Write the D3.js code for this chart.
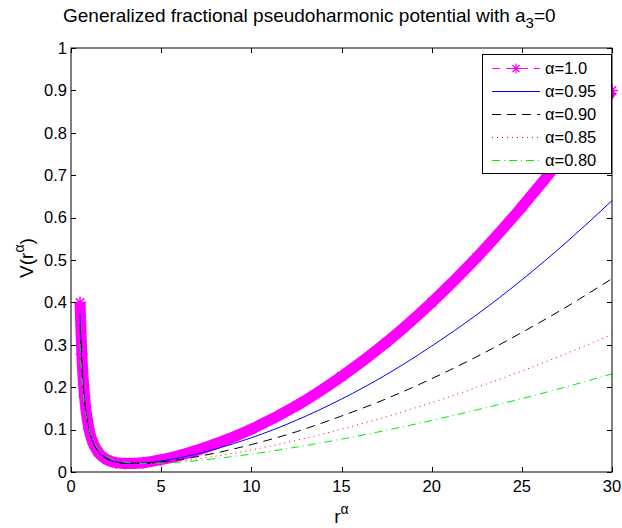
<!DOCTYPE html>
<html>
<head>
<meta charset="utf-8">
<script src="https://cdn.jsdelivr.net/npm/d3@7"></script>
<style>
  body { margin: 0; background: #fff; }
  svg { display: block; font-family: "Liberation Sans", Arial, Helvetica, sans-serif; }
</style>
</head>
<body>
<div id="chart"></div>
<script>
// r^alpha sample positions
var rVals = [0.5, 0.6, 0.75, 1, 1.25, 1.5, 2, 2.5, 3, 4, 5, 6, 8, 10, 12.5, 15, 17.5, 20, 22.5, 25, 27.5, 30]
// V(r^alpha) for each alpha
var v100 = [0.400, 0.278, 0.178, 0.101, 0.066, 0.047, 0.029, 0.022, 0.020, 0.022, 0.029, 0.039, 0.066, 0.101, 0.156, 0.225, 0.306, 0.400, 0.506, 0.625, 0.756, 0.900]
var v095 = [0.373, 0.264, 0.173, 0.101, 0.067, 0.0485, 0.0305, 0.0232, 0.0205, 0.0211, 0.026, 0.0334, 0.054, 0.0807, 0.122, 0.172, 0.230, 0.297, 0.371, 0.453, 0.543, 0.640]
var v090 = [0.348, 0.251, 0.168, 0.101, 0.068, 0.050, 0.032, 0.0244, 0.0211, 0.0203, 0.0236, 0.0292, 0.0446, 0.0647, 0.095, 0.132, 0.173, 0.220, 0.272, 0.329, 0.390, 0.456]
var v085 = [0.325, 0.239, 0.164, 0.101, 0.070, 0.052, 0.034, 0.0258, 0.022, 0.0201, 0.0219, 0.0258, 0.0372, 0.052, 0.0747, 0.101, 0.1305, 0.1635, 0.1996, 0.238, 0.280, 0.3245]
var v080 = [0.303, 0.227, 0.159, 0.101, 0.0714, 0.054, 0.036, 0.0274, 0.023, 0.0201, 0.0207, 0.0233, 0.0315, 0.0423, 0.0587, 0.0775, 0.0985, 0.1216, 0.1465, 0.173, 0.2013, 0.2314]

var labels = ['\u03b1=1.0', '\u03b1=0.95', '\u03b1=0.90', '\u03b1=0.85', '\u03b1=0.80']
var xTicks = [0, 5, 10, 15, 20, 25, 30]
var yTicks = [0, 0.1, 0.2, 0.3, 0.4, 0.5, 0.6, 0.7, 0.8, 0.9, 1]

var W = 622, H = 528
var L = 71, R = 612, T = 48, B = 472

var series = [
  { name: labels[0], v: v100, color: '#ff00ff', dash: null, band: true },
  { name: labels[1], v: v095, color: '#0000ff', dash: null },
  { name: labels[2], v: v090, color: '#000000', dash: '9,6' },
  { name: labels[3], v: v085, color: '#ff0000', dash: '1,4' },
  { name: labels[4], v: v080, color: '#00ee00', dash: '8,4,1,4' }
]

var svg = d3.select('#chart').append('svg')
  .attr('width', W)
  .attr('height', H)

var x = d3.scaleLinear().domain([0, 30]).range([L, R])
var y = d3.scaleLinear().domain([0, 1]).range([B, T])

// MATLAB 风格的 * 标记
function star (h) {
  var d = h * 0.7
  return 'M' + (-h) + ',0L' + h + ',0M0,' + (-h) + 'L0,' + h +
    'M' + (-d) + ',' + (-d) + 'L' + d + ',' + d + 'M' + (-d) + ',' + d + 'L' + d + ',' + (-d)
}

var line = d3.line()
  .x(d => x(d[0]))
  .y(d => y(d[1]))
  .curve(d3.curveMonotoneX)

// white axes background
svg.append('rect')
  .attr('x', L).attr('y', T)
  .attr('width', R - L).attr('height', B - T)
  .attr('fill', '#fff')

var plot = svg.append('g')

series.forEach(function (s) {
  var pts = rVals.map((r, i) => [r, s.v[i]])
  if (s.band) {
    plot.append('path')
      .attr('d', line(pts))
      .attr('fill', 'none')
      .attr('stroke', s.color)
      .attr('stroke-width', 11)
      .attr('stroke-linejoin', 'round')
    plot.selectAll('path.star')
      .data(pts)
      .enter()
      .append('path')
      .attr('class', 'star')
      .attr('transform', d => 'translate(' + x(d[0]) + ',' + y(d[1]) + ')')
      .attr('d', star(6))
      .attr('stroke', s.color)
      .attr('stroke-width', 1.5)
  } else {
    plot.append('path')
      .attr('d', line(pts))
      .attr('fill', 'none')
      .attr('stroke', s.color)
      .attr('stroke-width', 1)
      .attr('stroke-dasharray', s.dash)
  }
})

// axes box with inward ticks on all sides
var axes = svg.append('g').attr('stroke', '#000').attr('stroke-width', 1)
axes.append('rect')
  .attr('x', L).attr('y', T)
  .attr('width', R - L).attr('height', B - T)
  .attr('fill', 'none')
var tl = 5
xTicks.forEach(function (t) {
  var px = Math.round(x(t)) + 0.5
  axes.append('line').attr('x1', px).attr('x2', px).attr('y1', B).attr('y2', B - tl)
  axes.append('line').attr('x1', px).attr('x2', px).attr('y1', T).attr('y2', T + tl)
})
yTicks.forEach(function (t) {
  var py = Math.round(y(t)) + 0.5
  axes.append('line').attr('x1', L).attr('x2', L + tl).attr('y1', py).attr('y2', py)
  axes.append('line').attr('x1', R).attr('x2', R - tl).attr('y1', py).attr('y2', py)
})

svg.append('g').selectAll('text')
  .data(xTicks)
  .enter()
  .append('text')
  .attr('x', d => x(d))
  .attr('y', B + 20)
  .attr('text-anchor', 'middle')
  .attr('font-size', 16.5)
  .text(d => d)

svg.append('g').selectAll('text')
  .data(yTicks)
  .enter()
  .append('text')
  .attr('x', L - 4)
  .attr('y', d => y(d))
  .attr('dy', '0.35em')
  .attr('text-anchor', 'end')
  .attr('font-size', 16.5)
  .text(d => d)

// title
var title = svg.append('text')
  .attr('x', 63)
  .attr('y', 22)
  .attr('font-size', 19)
title.append('tspan').text('Generalized fractional pseudoharmonic potential with a')
title.append('tspan').attr('font-size', 15).attr('dy', 6).text('3')
title.append('tspan').attr('dy', -6).text('=0')

// x label
var xl = svg.append('text')
  .attr('x', (L + R) / 2)
  .attr('y', 523)
  .attr('text-anchor', 'middle')
  .attr('font-size', 19)
xl.append('tspan').text('r')
xl.append('tspan').attr('font-size', 14).attr('dy', -9).text('\u03b1')

// y label
var yl = svg.append('text')
  .attr('transform', 'translate(33,' + 258 + ') rotate(-90)')
  .attr('text-anchor', 'middle')
  .attr('font-size', 19)
yl.append('tspan').text('V(r')
yl.append('tspan').attr('font-size', 14).attr('dy', -9).text('\u03b1')
yl.append('tspan').attr('dy', 9).text(')')

// legend
var lg = svg.append('g')
lg.append('rect')
  .attr('x', 482.5).attr('y', 54.5)
  .attr('width', 129).attr('height', 119)
  .attr('fill', '#fff')
  .attr('stroke', '#000')
var rowY = [68, 91, 114, 137, 160]
series.forEach(function (s, i) {
  var yy = rowY[i] + 0.5
  lg.append('line')
    .attr('x1', 492).attr('x2', 540)
    .attr('y1', yy).attr('y2', yy)
    .attr('stroke', s.color)
    .attr('stroke-width', 1)
    .attr('stroke-dasharray', s.band ? '8,6' : s.dash)
  if (s.band) {
    lg.append('path')
      .attr('transform', 'translate(516,' + yy + ')')
      .attr('d', star(5))
      .attr('stroke', s.color)
      .attr('stroke-width', 1.2)
  }
  lg.append('text')
    .attr('x', 545)
    .attr('y', rowY[i])
    .attr('dy', '0.36em')
    .attr('font-size', 16.5)
    .text(s.name)
})
</script>
</body>
</html>
